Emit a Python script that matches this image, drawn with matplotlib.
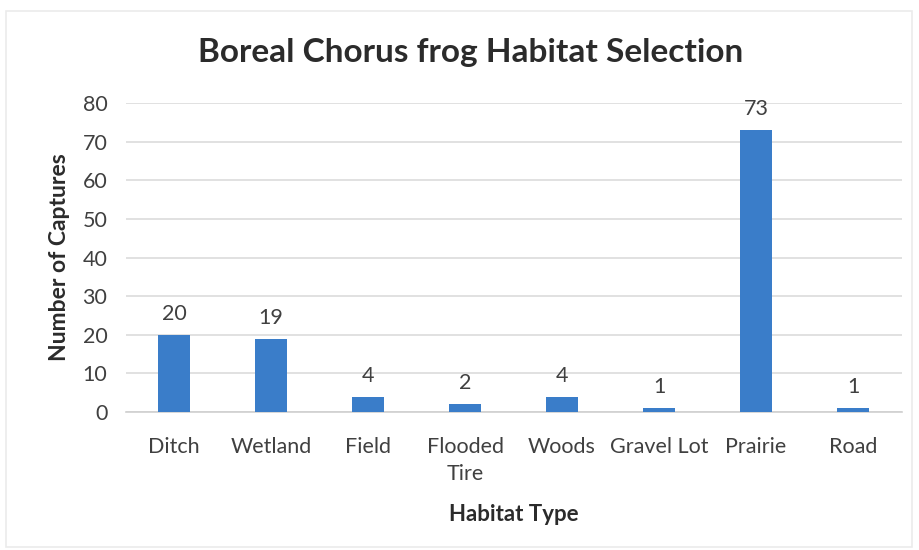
import numpy as np
import matplotlib.pyplot as plt
from matplotlib.patches import Rectangle

habitats = ["Ditch", "Wetland", "Field", "Flooded\nTire", "Woods", "Gravel Lot", "Prairie", "Road"]
captures = [20, 19, 4, 2, 4, 1, 73, 1]
y_ticks = [0, 10, 20, 30, 40, 50, 60, 70, 80]

plt.rcParams['font.family'] = ['Lato', 'DejaVu Sans']

fig = plt.figure(figsize=(9.19, 5.5), dpi=100)
ax = fig.add_axes([0.1366, 0.2509, 0.8444, 0.5618])

x = np.arange(len(habitats))
bars = ax.bar(x, captures, width=0.33, color='#3a7dc9', zorder=3)
for b, v in zip(bars, captures):
    ax.text(b.get_x() + b.get_width() / 2, v + 2.8, str(v),
            ha='center', va='bottom', fontsize=15.5, color='#404040')

ax.set_xlim(-0.5, len(habitats) - 0.5)
ax.set_ylim(0, 80)
ax.set_yticks(y_ticks)
ax.set_xticks(x)
ax.set_xticklabels(habitats, fontsize=15.5, color='#404040', linespacing=1.45)
ax.tick_params(axis='y', labelsize=15.5, labelcolor='#404040', length=0, pad=13)
ax.tick_params(axis='x', length=0, pad=18)
ax.yaxis.grid(True, color='#dcdcdc', linewidth=1.2, zorder=0)
for s in ['top', 'right', 'left']:
    ax.spines[s].set_visible(False)
ax.spines['bottom'].set_color('#d0d0d0')
ax.spines['bottom'].set_linewidth(1.2)

ax.set_xlabel("Habitat Type", fontsize=16, fontweight='bold', color='#2b2b2b', labelpad=14)
ax.set_ylabel("Number of Captures", fontsize=16.5, fontweight='bold', color='#2b2b2b', labelpad=9)
fig.text(0.512, 0.905, "Boreal Chorus frog Habitat Selection", ha='center', va='center',
         fontsize=24, fontweight='bold', color='#2b2b2b')

# faint chart-area border
fig.patches.append(Rectangle((0.006, 0.005), 0.986, 0.975, transform=fig.transFigure,
                             fill=False, edgecolor='#ebebeb', linewidth=1.2))

fig.savefig("out.png", dpi=100)
